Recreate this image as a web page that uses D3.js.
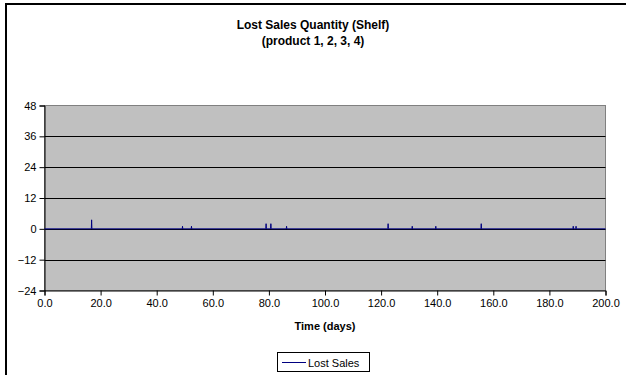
<!DOCTYPE html>
<html>
<head>
<meta charset="utf-8">
<script src="https://cdn.jsdelivr.net/npm/d3@7"></script>
<style>
  body { margin: 0; background: #fff; }
  text { font-family: "Liberation Sans", Arial, sans-serif; }
</style>
</head>
<body>
<div id="chart"></div>
<script>
// lost sales over time, spikes
var lostTime = [0, 16.7, 16.8, 16.9, 49.1, 49.2, 49.3, 52.3, 52.4, 52.5,
                78.9, 79.0, 79.1, 80.6, 80.7, 80.8, 86.2, 86.3, 86.4,
                122.4, 122.5, 122.6, 131.0, 131.1, 131.2, 139.4, 139.5, 139.6,
                155.6, 155.7, 155.8, 188.4, 188.5, 188.6, 189.4, 189.5, 189.6, 200];
var lostQty  = [0, 0, 3.5, 0, 0, 1, 0, 0, 1, 0,
                0, 2, 0, 0, 2, 0, 0, 1, 0,
                0, 2, 0, 0, 1, 0, 0, 1, 0,
                0, 2, 0, 0, 1, 0, 0, 1, 0, 0];
var xTicks = [0, 20, 40, 60, 80, 100, 120, 140, 160, 180, 200];
var yTicks = [-24, -12, 0, 12, 24, 36, 48];

(function() {
  var width = 626, height = 375;
  var left = 44.5, right = 605.5, top = 105.5, bottom = 290.5;

  var svg = d3.select("#chart").append("svg")
              .attr("width", width)
              .attr("height", height);

  // outer frame
  svg.append("rect")
     .attr("x", 6).attr("y", 4)
     .attr("width", 640).attr("height", 400)
     .attr("fill", "#fff")
     .attr("stroke", "#000")
     .attr("stroke-width", 2);

  var x = d3.scaleLinear().domain([0, 200]).range([left, right]);
  var y = d3.scaleLinear().domain([-24, 48]).range([bottom, top]);

  // plot area
  svg.append("rect")
     .attr("x", left).attr("y", top)
     .attr("width", right - left).attr("height", bottom - top)
     .attr("fill", "#c0c0c0")
     .attr("stroke", "#808080");

  // gridlines
  svg.append("g").selectAll("line")
     .data(yTicks.filter(function(d){ return d > -24 && d < 48; }))
     .enter().append("line")
     .attr("x1", left).attr("x2", right)
     .attr("y1", function(d){ return Math.round(y(d)) + 0.5; })
     .attr("y2", function(d){ return Math.round(y(d)) + 0.5; })
     .attr("stroke", "#000");

  var yAxis = svg.append("g")
     .attr("transform", "translate(" + left + ",0)")
     .call(d3.axisLeft(y).tickValues(yTicks).tickSize(5).tickPadding(3));

  var xAxis = svg.append("g")
     .attr("transform", "translate(0," + bottom + ")")
     .call(d3.axisBottom(x).tickValues(xTicks).tickFormat(d3.format(".1f")).tickSize(5).tickPadding(4));

  [yAxis, xAxis].forEach(function(a) {
    a.select(".domain").attr("stroke", "#000");
    a.selectAll(".tick line").attr("stroke", "#000");
    a.selectAll("text").attr("font-size", 11).attr("fill", "#000")
     .style("font-family", "Liberation Sans, Arial, sans-serif");
  });

  // series
  var line = d3.line()
      .x(function(d, i){ return x(lostTime[i]); })
      .y(function(d){ return y(d); });

  svg.append("path")
     .datum(lostQty)
     .attr("d", line)
     .attr("fill", "none")
     .attr("stroke", "#000080")
     .attr("stroke-width", 1);

  // titles
  svg.append("text").attr("x", 313).attr("y", 29)
     .attr("text-anchor", "middle").attr("font-size", 12).attr("font-weight", "bold")
     .text("Lost Sales Quantity (Shelf)");
  svg.append("text").attr("x", 313).attr("y", 45)
     .attr("text-anchor", "middle").attr("font-size", 12).attr("font-weight", "bold")
     .text("(product 1, 2, 3, 4)");
  svg.append("text").attr("x", 325).attr("y", 330)
     .attr("text-anchor", "middle").attr("font-size", 11).attr("font-weight", "bold")
     .text("Time (days)");

  // legend
  var lg = svg.append("g");
  lg.append("rect")
    .attr("x", 277.5).attr("y", 352.5).attr("width", 92).attr("height", 19)
    .attr("fill", "#fff").attr("stroke", "#000");
  lg.append("line")
    .attr("x1", 282).attr("x2", 306).attr("y1", 362.5).attr("y2", 362.5)
    .attr("stroke", "#000080");
  lg.append("text").attr("x", 308).attr("y", 366.5)
    .attr("font-size", 11).text("Lost Sales");
})();
</script>
</body>
</html>
